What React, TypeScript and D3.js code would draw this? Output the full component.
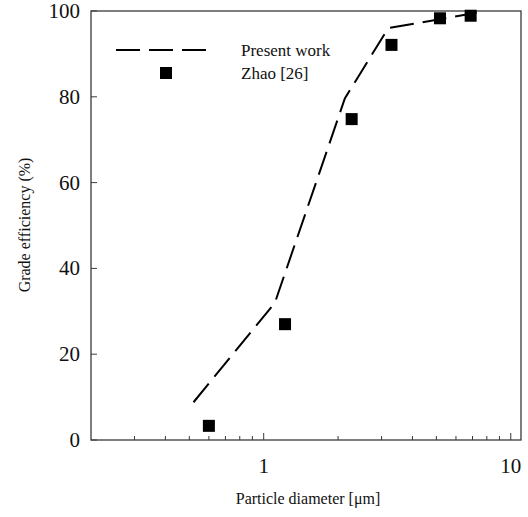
import React from 'react';
import * as d3 from 'd3';

// Zhao [26] measurements
const zhaoDiameter = [0.6, 1.22, 2.27, 3.29, 5.17, 6.88];
const zhaoEfficiency = [3.3, 27.0, 74.8, 92.1, 98.3, 98.9];

// Present work (simulation)
const presentDiameter = [0.52, 1.11, 2.13, 3.19, 5.17, 7.28];
const presentEfficiency = [8.8, 32.0, 79.6, 96.0, 98.1, 99.6];

const xMajorTicks = [1, 10];
const xMinorTicks = [0.3, 0.4, 0.5, 0.6, 0.7, 0.8, 0.9, 2, 3, 4, 5, 6, 7, 8, 9];
const yTicks = [0, 20, 40, 60, 80, 100];

const legendLabels = ['Present work', 'Zhao [26]'];

const WIDTH = 528;
const HEIGHT = 517;
const margin = { top: 11, right: 7, bottom: 77, left: 91 };
const FONT = '"Liberation Serif", "Times New Roman", serif';
const AXIS_COLOR = '#3a3a3a';

const App = () => {
    const innerWidth = WIDTH - margin.left - margin.right;
    const innerHeight = HEIGHT - margin.top - margin.bottom;

    const x = d3.scaleLog().domain([0.2, 11]).range([0, innerWidth]);
    const y = d3.scaleLinear().domain([0, 100]).range([innerHeight, 0]);

    const presentData = presentDiameter.map((d, i) => ({ x: d, y: presentEfficiency[i] }));
    const zhaoData = zhaoDiameter.map((d, i) => ({ x: d, y: zhaoEfficiency[i] }));

    const linePath = d3.line<{ x: number; y: number }>()
        .x((d) => x(d.x))
        .y((d) => y(d.y))(presentData);

    const markerSize = 12;

    return (
        <svg
            width={WIDTH}
            height={HEIGHT}
            style={{ position: 'absolute', left: 0, top: 0, background: '#fff' }}
            fontFamily={FONT}
        >
            <g transform={`translate(${margin.left},${margin.top})`}>
                {/* frame */}
                <rect
                    x={0}
                    y={0}
                    width={innerWidth}
                    height={innerHeight}
                    fill="none"
                    stroke={AXIS_COLOR}
                    strokeWidth={1.3}
                />

                {/* y ticks (inward) */}
                {yTicks.map((t) => (
                    <g key={`y${t}`}>
                        <line x1={0} x2={6} y1={y(t)} y2={y(t)} stroke={AXIS_COLOR} strokeWidth={1} />
                        <text
                            x={-11}
                            y={y(t)}
                            textAnchor="end"
                            dominantBaseline="central"
                            fontSize={21}
                            fill="#111"
                        >
                            {t}
                        </text>
                    </g>
                ))}

                {/* x ticks (inward) */}
                {xMajorTicks.map((t) => (
                    <g key={`xM${t}`}>
                        <line x1={x(t)} x2={x(t)} y1={innerHeight} y2={innerHeight - 7} stroke={AXIS_COLOR} strokeWidth={1} />
                        <text x={x(t)} y={innerHeight + 33} textAnchor="middle" fontSize={21} fill="#111">
                            {t}
                        </text>
                    </g>
                ))}
                {xMinorTicks.map((t) => (
                    <line
                        key={`xm${t}`}
                        x1={x(t)}
                        x2={x(t)}
                        y1={innerHeight}
                        y2={innerHeight - 4}
                        stroke={AXIS_COLOR}
                        strokeWidth={1}
                    />
                ))}

                {/* present work line */}
                <path
                    d={linePath || ''}
                    fill="none"
                    stroke="#000"
                    strokeWidth={2}
                    strokeDasharray="24,9"
                />

                {/* Zhao markers */}
                {zhaoData.map((d, i) => (
                    <rect
                        key={`z${i}`}
                        x={x(d.x) - markerSize / 2}
                        y={y(d.y) - markerSize / 2}
                        width={markerSize}
                        height={markerSize}
                        fill="#000"
                    />
                ))}

                {/* legend */}
                <line x1={25} x2={116} y1={39} y2={39} stroke="#000" strokeWidth={2} strokeDasharray="24,9" />
                <text x={150} y={39} dominantBaseline="central" fontSize={17} fill="#111">
                    {legendLabels[0]}
                </text>
                <rect x={75 - markerSize / 2} y={62 - markerSize / 2} width={markerSize} height={markerSize} fill="#000" />
                <text x={150} y={62} dominantBaseline="central" fontSize={17} fill="#111">
                    {legendLabels[1]}
                </text>
            </g>

            {/* axis titles */}
            <text x={308} y={504} textAnchor="middle" fontSize={16} fill="#111">
                Particle diameter [μm]
            </text>
            <text
                transform="translate(24,225) rotate(-90)"
                textAnchor="middle"
                dominantBaseline="central"
                fontSize={16}
                fill="#111"
            >
                Grade efficiency (%)
            </text>
        </svg>
    );
};

export default App;
